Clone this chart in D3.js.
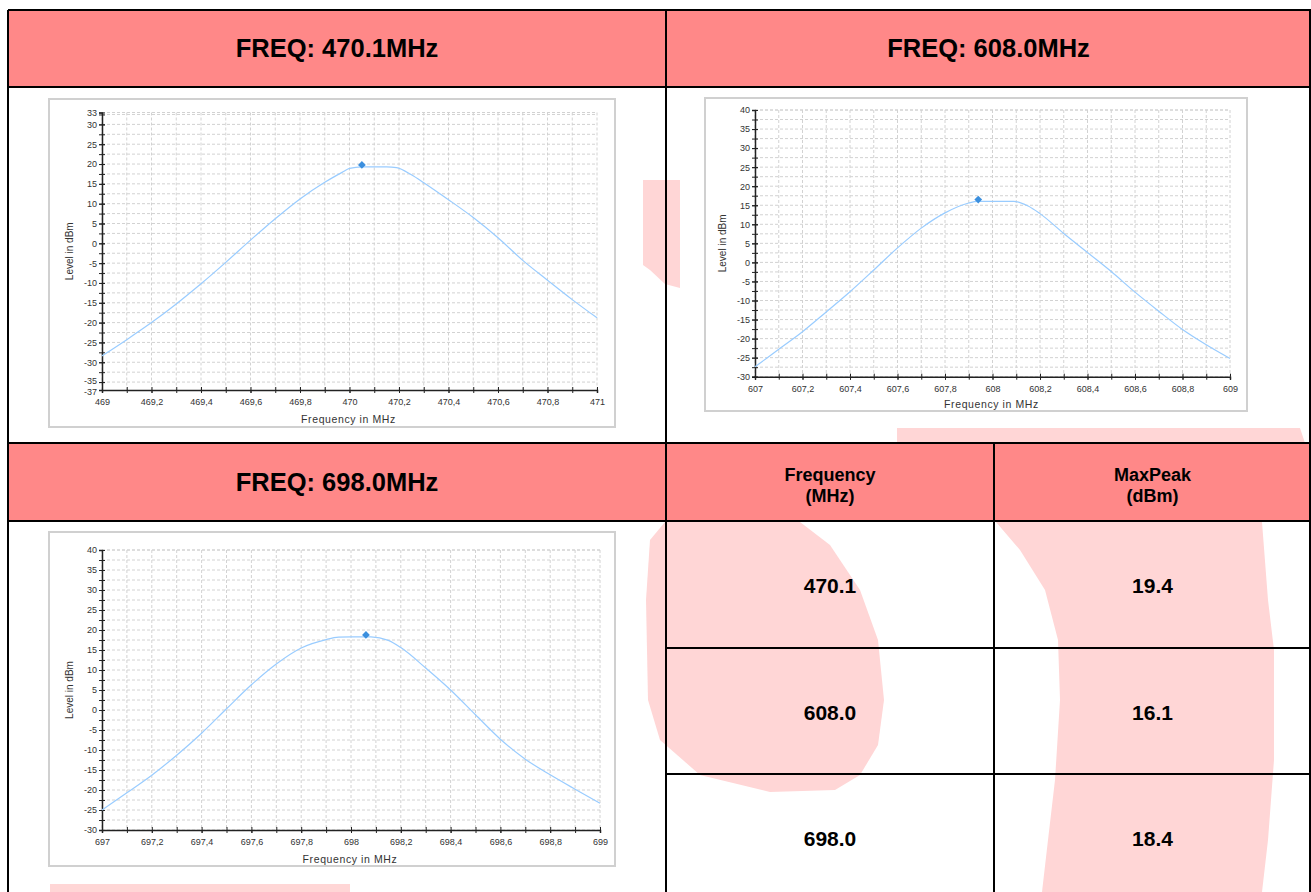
<!DOCTYPE html>
<html><head><meta charset="utf-8">
<script src="https://cdn.jsdelivr.net/npm/d3@7"></script>
<style>body{margin:0;background:#fff;}svg{display:block;font-family:"Liberation Sans",Arial,sans-serif;}</style>
</head><body>
<script>
// ---------- data ----------
const headerTitles = ["FREQ: 470.1MHz", "FREQ: 608.0MHz", "FREQ: 698.0MHz"];
const tableHeaders = [["Frequency", "(MHz)"], ["MaxPeak", "(dBm)"]];
const tableFreq = ["470.1", "608.0", "698.0"];
const tableMaxPeak = ["19.4", "16.1", "18.4"];

const chart1Freq  = [469.0,469.1,469.2,469.3,469.4,469.5,469.6,469.7,469.8,469.9,469.97,470.0,470.05,470.1,470.15,470.19,470.25,470.3,470.4,470.5,470.6,470.7,470.8,470.9,471.0];
const chart1Level = [-28.4,-24.3,-20.0,-15.3,-10.2,-4.8,0.8,6.2,11.2,15.4,17.9,18.9,19.3,19.3,19.3,19.1,17.3,15.3,11.0,6.5,1.4,-4.3,-9.3,-14.2,-18.8];
const chart2Freq  = [607.0,607.1,607.2,607.3,607.4,607.5,607.6,607.7,607.8,607.9,607.94,608.0,608.09,608.15,608.2,608.3,608.4,608.5,608.6,608.7,608.8,608.9,609.0];
const chart2Level = [-27.4,-22.8,-18.2,-13.0,-7.7,-2.0,3.8,9.0,13.0,15.6,16.0,16.0,16.0,14.8,12.8,7.6,2.6,-2.4,-7.8,-12.8,-17.6,-21.6,-25.2];
const chart3Freq  = [697.0,697.1,697.2,697.3,697.4,697.5,697.6,697.7,697.8,697.9,697.95,698.0,698.08,698.15,698.2,698.3,698.4,698.5,698.6,698.7,698.8,698.9,699.0];
const chart3Level = [-25.0,-20.7,-16.3,-11.3,-5.8,0.3,6.3,11.5,15.5,17.6,18.2,18.3,18.3,17.4,15.6,10.5,5.0,-1.2,-7.3,-12.3,-16.2,-19.8,-23.3];
const peakFreq  = [470.05, 607.94, 698.06];
const peakLevel = [19.4, 16.1, 18.4];

const chart1YTicks = [33,30,25,20,15,10,5,0,-5,-10,-15,-20,-25,-30,-35,-37];
const chart23YTicks = [40,35,30,25,20,15,10,5,0,-5,-10,-15,-20,-25,-30];
const chart1XTicks = [469,469.2,469.4,469.6,469.8,470,470.2,470.4,470.6,470.8,471];
const chart2XTicks = [607,607.2,607.4,607.6,607.8,608,608.2,608.4,608.6,608.8,609];
const chart3XTicks = [697,697.2,697.4,697.6,697.8,698,698.2,698.4,698.6,698.8,699];

// ---------- drawing ----------
const W = 1311, H = 892;
const svg = d3.select("body").append("svg").attr("width", W).attr("height", H);
svg.append("rect").attr("width", W).attr("height", H).attr("fill", "#fff");

// watermark fragments
const wm = svg.append("g").attr("fill", "#ffd6d6");
const wmShapes = [
  [[665,522],[800,522],[830,545],[860,590],[878,640],[884,700],[878,745],[860,775],[835,790],[770,792],[700,775],[660,740],[648,700],[646,600],[650,540]],
  [[996,522],[1262,522],[1268,600],[1274,650],[1274,760],[1268,840],[1262,892],[1042,892],[1048,840],[1055,780],[1060,700],[1058,640],[1045,590],[1020,550]],
  [[897,428],[1300,428],[1305,443],[897,443]],
  [[643,180],[680,180],[680,288],[665,284],[650,270],[643,265]],
  [[50,884],[350,884],[350,892],[50,892]]
];
wmShapes.forEach(s => wm.append("path").attr("d", d3.line().curve(d3.curveLinearClosed)(s)));

// table
const colX = [8, 666, 994, 1311];
const rowY = [10, 87, 443, 521, 648, 774, 900];
const pink = "#ff8888";
svg.append("rect").attr("x", colX[0]).attr("y", rowY[0]).attr("width", W - colX[0]).attr("height", rowY[1] - rowY[0]).attr("fill", pink);
svg.append("rect").attr("x", colX[0]).attr("y", rowY[2]).attr("width", W - colX[0]).attr("height", rowY[3] - rowY[2]).attr("fill", pink);

const tx = svg.append("g").attr("font-weight", "bold").attr("fill", "#000").attr("text-anchor", "middle");
tx.append("text").attr("x", (colX[0] + colX[1]) / 2).attr("y", 57).attr("font-size", 25.5).text(headerTitles[0]);
tx.append("text").attr("x", (colX[1] + colX[3]) / 2).attr("y", 57).attr("font-size", 25.5).text(headerTitles[1]);
tx.append("text").attr("x", (colX[0] + colX[1]) / 2).attr("y", 491).attr("font-size", 25.5).text(headerTitles[2]);
tableHeaders.forEach((h, i) => {
  const cx = (colX[i + 1] + colX[i + 2]) / 2;
  tx.append("text").attr("x", cx).attr("y", 481).attr("font-size", 18).text(h[0]);
  tx.append("text").attr("x", cx).attr("y", 502).attr("font-size", 18).text(h[1]);
});
const valueY = [593, 720, 846];
tableFreq.forEach((v, i) => {
  tx.append("text").attr("x", (colX[1] + colX[2]) / 2).attr("y", valueY[i]).attr("font-size", 21).text(v);
  tx.append("text").attr("x", (colX[2] + colX[3]) / 2).attr("y", valueY[i]).attr("font-size", 21).text(tableMaxPeak[i]);
});

const lines = svg.append("g").attr("stroke", "#000").attr("stroke-width", 2);
const hl = (x1, x2, y) => lines.append("line").attr("x1", x1).attr("x2", x2).attr("y1", y).attr("y2", y);
const vl = (x, y1, y2) => lines.append("line").attr("x1", x).attr("x2", x).attr("y1", y1).attr("y2", y2);
hl(colX[0], W, rowY[0]); hl(colX[0], W, rowY[1]); hl(colX[0], W, rowY[2]); hl(colX[0], W, rowY[3]);
hl(colX[1], W, rowY[4]); hl(colX[1], W, rowY[5]);
vl(colX[0], rowY[0], H); vl(colX[1], rowY[0], H); vl(colX[2], rowY[2], H); vl(W - 1, rowY[0], H);

// charts
function drawChart(cfg) {
  const g = svg.append("g");
  g.append("rect").attr("x", cfg.frame[0]).attr("y", cfg.frame[1]).attr("width", cfg.frame[2] - cfg.frame[0]).attr("height", cfg.frame[3] - cfg.frame[1])
    .attr("fill", "#fff").attr("stroke", "#d0d0d0").attr("stroke-width", 2);
  const x = d3.scaleLinear().domain(cfg.xDomain).range([cfg.plot[0], cfg.plot[2]]);
  const y = d3.scaleLinear().domain(cfg.yDomain).range([cfg.plot[3], cfg.plot[1]]);
  const xMinor = d3.range(cfg.xDomain[0], cfg.xDomain[1] + 1e-9, 0.1).map(v => +v.toFixed(2));
  const yMinor = [];
  for (let v = Math.floor(cfg.yDomain[1] / 2.5) * 2.5; v >= cfg.yDomain[0]; v -= 2.5) yMinor.push(v);
  const grid = g.append("g").attr("stroke", "#d2d2d2").attr("stroke-width", 1).attr("stroke-dasharray", "3,2");
  xMinor.forEach(v => grid.append("line").attr("x1", x(v)).attr("x2", x(v)).attr("y1", cfg.plot[1]).attr("y2", cfg.plot[3]));
  yMinor.concat([cfg.yDomain[1]]).forEach(v => grid.append("line").attr("x1", cfg.plot[0]).attr("x2", cfg.plot[2]).attr("y1", y(v)).attr("y2", y(v)));

  const yAxis = d3.axisLeft(y).tickValues(cfg.yTicks).tickSize(3).tickPadding(2).tickFormat(d => String(d));
  const ya = g.append("g").attr("transform", `translate(${cfg.plot[0]},0)`).call(yAxis);
  // the two lowest labels of a tight axis sit very close; nudge them apart slightly
  ya.selectAll(".tick text").attr("dy", d => d === -37 ? "0.55em" : d === -35 ? "0.12em" : "0.32em");
  g.append("g").attr("transform", `translate(${cfg.plot[0]},0)`).call(d3.axisLeft(y).tickValues(yMinor).tickSize(3).tickFormat("")).call(s => s.select(".domain").remove());
  g.append("g").attr("transform", `translate(${cfg.plot[0] + 3},0)`).call(d3.axisLeft(y).tickValues(yMinor.concat(cfg.yTicks)).tickSize(3).tickFormat("")).call(s => s.select(".domain").remove());
  const xAxis = d3.axisBottom(x).tickValues(cfg.xTicks).tickSize(3).tickPadding(6).tickFormat(d => String(+d.toFixed(1)).replace(".", ","));
  g.append("g").attr("transform", `translate(0,${cfg.plot[3]})`).call(xAxis);
  g.append("g").attr("transform", `translate(0,${cfg.plot[3]})`).call(d3.axisTop(x).tickValues(xMinor).tickSize(3).tickFormat("")).call(s => s.select(".domain").remove());
  g.append("g").attr("transform", `translate(0,${cfg.plot[3]})`).call(d3.axisBottom(x).tickValues(xMinor).tickSize(3).tickFormat("")).call(s => s.select(".domain").remove());
  g.selectAll(".domain").attr("stroke", "#222").attr("stroke-width", 1.5);
  g.selectAll(".tick line").attr("stroke", "#222");
  g.selectAll(".tick text").attr("font-size", 9).attr("fill", "#333").attr("font-family", "'Liberation Sans',Arial,sans-serif");

  const data = cfg.freq.map((f, i) => [f, cfg.level[i]]);
  g.append("path").datum(data).attr("fill", "none").attr("stroke", "#99ccff").attr("stroke-width", 1.2)
    .attr("d", d3.line().x(d => x(d[0])).y(d => y(d[1])).curve(d3.curveMonotoneX));
  g.append("path").attr("d", d3.symbol(d3.symbolSquare, 30)()).attr("fill", "#3b8fde")
    .attr("transform", `translate(${x(cfg.peak[0])},${y(cfg.peak[1]) - 1.5}) rotate(45)`);

  g.append("text").attr("x", (cfg.plot[0] + cfg.plot[2]) / 2 - 1).attr("y", cfg.xLabelY).attr("text-anchor", "middle")
    .attr("font-size", 10.5).attr("letter-spacing", 0.6).attr("fill", "#333").text("Frequency in MHz");
  g.append("text").attr("transform", `translate(${cfg.yLabelX},${(cfg.plot[1] + cfg.plot[3]) / 2}) rotate(-90)`).attr("text-anchor", "middle")
    .attr("font-size", 10).attr("fill", "#333").text("Level in dBm");
}

drawChart({frame: [49, 99, 615, 427], plot: [102, 112.5, 597, 390], xDomain: [469, 471], yDomain: [-37, 33],
  yTicks: chart1YTicks, xTicks: chart1XTicks, freq: chart1Freq, level: chart1Level, peak: [peakFreq[0], peakLevel[0]], xLabelY: 423, yLabelX: 73});
drawChart({frame: [705, 98, 1247, 411], plot: [755, 110, 1230, 376.7], xDomain: [607, 609], yDomain: [-30, 40],
  yTicks: chart23YTicks, xTicks: chart2XTicks, freq: chart2Freq, level: chart2Level, peak: [peakFreq[1], peakLevel[1]], xLabelY: 408, yLabelX: 726});
drawChart({frame: [49, 532, 615, 866], plot: [102, 550, 600, 830], xDomain: [697, 699], yDomain: [-30, 40],
  yTicks: chart23YTicks, xTicks: chart3XTicks, freq: chart3Freq, level: chart3Level, peak: [peakFreq[2], peakLevel[2]], xLabelY: 863, yLabelX: 73});
</script>
</body></html>
